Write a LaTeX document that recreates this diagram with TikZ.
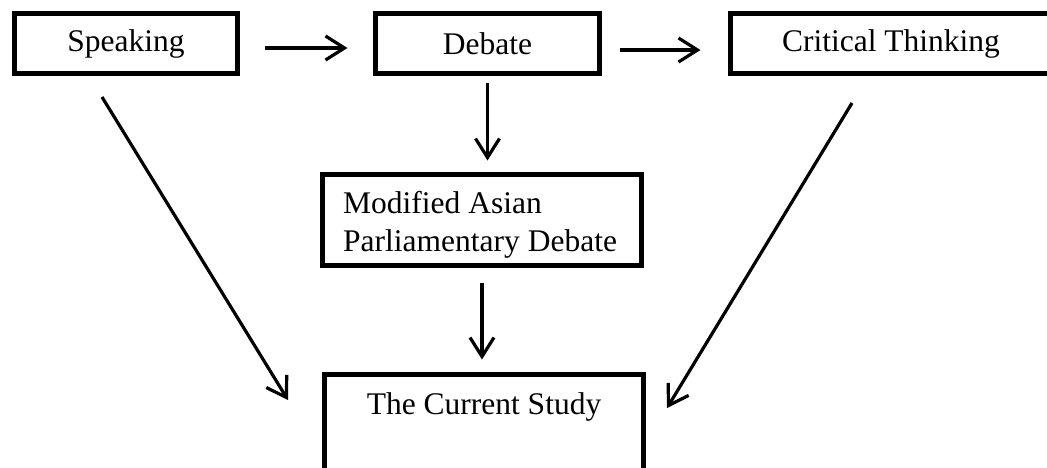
\documentclass[tikz,border=0pt]{standalone}
\usepackage{fontspec}
\setmainfont{Liberation Serif}
\usetikzlibrary{arrows.meta}
\newcommand\myfs{\fontsize{31.5}{38}\selectfont}
\tikzset{
  box/.style={draw, line width=5pt, inner sep=0pt, outer sep=0pt, minimum height=60pt, font=\myfs},
  arr/.style={line width=3.2pt, -{Straight Barb[length=19pt, width=24pt, line width=3.2pt]}},
}
\begin{document}
\begin{tikzpicture}[x=1pt, y=-1pt]
\useasboundingbox (0,0) rectangle (1047,467);
\node[box, minimum width=223pt] (sp) at (126,43.5) {Speaking};
\node[box, minimum width=224pt] (db) at (487.5,43.5) {Debate};
\node[box, minimum width=321pt] (ct) at (891,43.5) {Critical Thinking};
\node[box, minimum height=91pt, minimum width=319pt] (md) at (482,220) {};
\node[font=\myfs, align=left, anchor=west, inner sep=0pt] (mdt) at ([xshift=20.5pt, yshift=-5pt]md.west)
  {Modified Asian\\Parliamentary Debate};
\node[font=\myfs, minimum width=319pt, minimum height=62pt, inner sep=0pt, outer sep=0pt] (cs) at (484,406.5) {The Current Study};
\draw[line width=5pt] ([yshift=-60pt]cs.south west) -- ([yshift=1pt]cs.north west) -- ([yshift=1pt]cs.north east) -- ([yshift=-60pt]cs.south east);
\draw[arr, shorten <=27pt, shorten >=28pt] ([yshift=-4.5pt]sp.east) -- ([yshift=-4.5pt]db.west);
\draw[arr, shorten <=20pt, shorten >=30pt] ([yshift=-6.5pt]db.east) -- ([yshift=-6.5pt]ct.west);
\draw[arr, shorten <=9pt, shorten >=14pt] (db.south) -- (db.south |- md.north);
\draw[arr, shorten <=17pt, shorten >=16pt] (md.south) -- (md.south |- cs.north);
\coordinate (s1) at (102,97);
\coordinate (s2) at (288,400);
\coordinate (c1) at (852,103);
\coordinate (c2) at (667,408);
\draw[arr] (s1) -- (s2);
\draw[arr] (c1) -- (c2);
\end{tikzpicture}
\end{document}
